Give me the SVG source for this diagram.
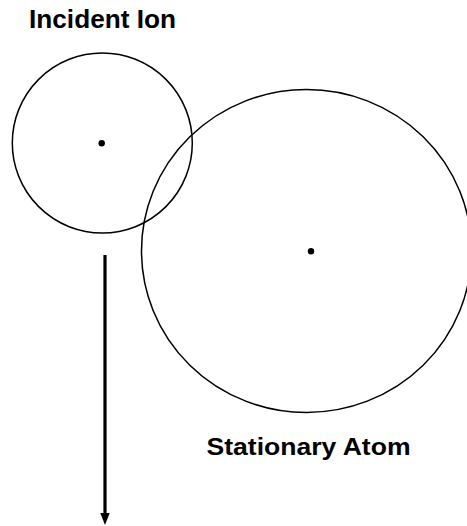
<svg xmlns="http://www.w3.org/2000/svg" width="467" height="526" viewBox="0 0 467 526">
<style>
.outline{fill:none;stroke:#000;stroke-width:1.5}
.dot{fill:#000}
.lbl{font-family:"Liberation Sans",Arial,sans-serif;fill:#000}
</style>
<rect width="467" height="526" fill="#fff"/>
<g id="incident-ion">
<circle class="outline" cx="102.3" cy="143" r="90"/>
<circle class="dot" cx="101.7" cy="143.3" r="3.2"/>
<text class="lbl" x="29" y="28" font-size="25" font-weight="bold" textLength="147" lengthAdjust="spacingAndGlyphs">Incident Ion</text>
</g>
<g id="stationary-atom">
<ellipse class="outline" cx="306.5" cy="251" rx="165" ry="161.5"/>
<circle class="dot" cx="311" cy="251.3" r="3.2"/>
<text class="lbl" x="206.5" y="455" font-size="23.5" font-weight="bold" textLength="204" lengthAdjust="spacingAndGlyphs">Stationary Atom</text>
</g>
<g id="connectors">
<line x1="105" y1="255" x2="105" y2="514" stroke="#000" stroke-width="3.2"/>
<polygon points="100.3,513 109.7,513 105,525" fill="#000"/>
</g>
</svg>
